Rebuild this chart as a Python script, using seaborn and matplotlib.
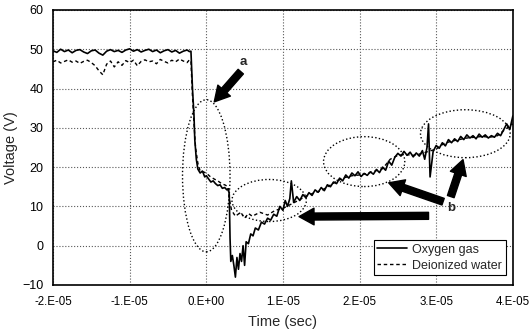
import numpy as np
import pandas as pd
import matplotlib
matplotlib.use("Agg")
import matplotlib.pyplot as plt
from matplotlib.patches import Ellipse
import seaborn as sns

# ---- data (time in microseconds, voltage in V) ----
oxy_t = [-20.0, -19.5, -19.0, -18.5, -18.0, -17.5, -17.0, -16.5, -16.0, -15.5,
         -15.0, -14.5, -14.0, -13.5, -13.0, -12.5, -12.0, -11.5, -11.0, -10.5,
         -10.0, -9.5, -9.0, -8.5, -8.0, -7.5, -7.0, -6.5, -6.0, -5.5,
         -5.0, -4.5, -4.0, -3.5, -3.0, -2.5, -2.2,
         -2.0, -1.8, -1.6, -1.5, -1.3, -1.1, -0.8, -0.5, -0.2, 0.0,
         0.3, 0.6, 0.9, 1.2, 1.5, 1.8, 2.1, 2.4, 2.7, 2.9,
         3.0, 3.1, 3.2, 3.4, 3.6, 3.8, 4.0, 4.2, 4.4, 4.6,
         4.8, 5.0, 5.2, 5.5, 5.8, 6.1, 6.4, 6.8, 7.2, 7.6,
         8.0, 8.4, 8.8, 9.2, 9.6, 10.0, 10.3, 10.6, 10.9, 11.1,
         11.4, 11.8, 12.2, 12.6, 13.0, 13.4, 13.8, 14.2, 14.6, 15.0,
         15.4, 15.8, 16.2, 16.6, 17.0, 17.4, 17.8, 18.2, 18.6, 19.0,
         19.4, 19.8, 20.2, 20.6, 21.0, 21.4, 21.8, 22.2, 22.6, 23.0,
         23.4, 23.8, 24.2, 24.6, 25.0, 25.4, 25.8, 26.2, 26.6, 27.0,
         27.4, 27.8, 28.2, 28.5, 28.8, 29.0, 29.2, 29.6, 30.0, 30.4,
         30.8, 31.2, 31.6, 32.0, 32.4, 32.8, 33.2, 33.6, 34.0, 34.4,
         34.8, 35.2, 35.6, 36.0, 36.4, 36.8, 37.2, 37.6, 38.0, 38.4,
         38.8, 39.2, 39.6, 40.0]
oxy_v = [49.6, 49.2, 50.0, 49.4, 49.8, 49.1, 49.7, 49.9, 49.3, 48.9,
         49.6, 49.8, 49.0, 48.5, 49.5, 49.9, 49.4, 49.7, 49.2, 49.8,
         50.1, 49.5, 49.9, 49.3, 49.7, 50.0, 49.4, 49.8, 49.1, 49.6,
         49.9, 49.3, 49.7, 49.0, 49.5, 49.8, 49.4,
         49.5, 40.0, 33.0, 27.0, 22.0, 19.5, 18.5, 19.0, 17.5, 17.8,
         17.0, 16.2, 16.5, 15.8, 15.3, 15.5, 14.6, 14.8, 14.2, 14.5,
         13.0, 2.0, -4.0, -2.5, -5.0, -8.0, -3.0, -6.0, -2.0, -4.0,
         0.0, -5.0, 1.0, 0.5, 3.0, 2.5, 4.5, 4.0, 6.0, 5.5,
         7.0, 6.5, 8.0, 7.5, 10.0, 9.0, 11.5, 10.0, 12.0, 16.5,
         11.0, 12.5, 11.5, 13.0, 12.2, 13.5, 12.8, 14.2, 13.6, 14.8,
         14.0, 15.5, 15.0, 16.2, 15.8, 17.2, 16.5, 18.0, 17.2, 18.5,
         17.8, 18.8, 17.6, 18.4, 17.9, 18.8, 18.2, 19.4, 18.6, 20.0,
         19.2, 21.5, 20.5, 22.5, 23.5, 22.8, 24.0, 23.0, 23.8, 22.6,
         23.6, 22.8, 24.2, 22.0, 25.0, 31.0, 17.5, 24.0, 25.5, 24.8,
         26.2, 25.4, 27.0, 26.2, 27.2, 26.5, 27.8, 27.0, 28.2, 27.4,
         28.0, 27.2, 28.4, 27.6, 28.2, 27.4, 28.0, 27.6, 28.6, 28.0,
         29.5, 31.0, 29.6, 33.0]

water_t = [-20.0, -19.5, -19.0, -18.5, -18.0, -17.5, -17.0, -16.5, -16.0, -15.5,
           -15.0, -14.5, -14.0, -13.5, -13.0, -12.5, -12.0, -11.5, -11.0, -10.5,
           -10.0, -9.5, -9.0, -8.5, -8.0, -7.5, -7.0, -6.5, -6.0, -5.5,
           -5.0, -4.5, -4.0, -3.5, -3.0, -2.5, -2.2,
           -2.0, -1.8, -1.6, -1.4, -1.1, -0.8, -0.4, 0.0, 0.5, 1.0,
           1.5, 2.0, 2.5, 2.8, 3.0, 3.3, 3.8, 4.5, 5.0, 5.5,
           6.0, 7.0, 8.0, 9.0, 10.0, 11.0, 12.0, 13.0, 14.0, 15.0,
           16.0, 17.0, 18.0, 19.0, 20.0, 21.0, 22.0, 23.0, 24.0, 25.0,
           26.0, 27.0, 28.0, 29.0, 30.0, 31.0, 32.0, 33.0, 34.0, 35.0,
           36.0, 37.0, 38.0, 39.0, 40.0]
water_v = [46.8, 47.2, 46.5, 46.9, 47.3, 46.7, 47.0, 46.4, 46.9, 47.2,
           46.6, 45.8, 44.5, 43.5, 46.2, 47.0, 45.5, 46.8, 45.9, 47.1,
           46.6, 47.2, 45.8, 46.9, 47.3, 46.8, 47.0, 46.3, 47.4, 46.9,
           46.5, 47.2, 46.8, 47.5, 47.0, 46.6, 47.3,
           47.0, 38.0, 31.0, 25.0, 21.0, 19.0, 18.8, 18.5, 17.6, 17.0,
           16.5, 15.8, 15.4, 15.0, 12.0, 9.0, 7.5, 8.5, 7.0, 8.2,
           7.5, 8.5, 7.8, 9.0, 9.5, 10.5, 11.5, 12.6, 13.4, 14.0,
           15.2, 16.4, 17.3, 17.8, 18.0, 18.4, 19.0, 19.6, 22.0, 23.0,
           23.2, 23.0, 23.4, 24.0, 24.6, 26.0, 26.6, 27.0, 27.4, 27.6,
           27.8, 27.6, 28.0, 29.6, 31.0]

series_names = ["Oxygen gas", "Deionized water"]
x_ticks_us = [-20, -10, 0, 10, 20, 30, 40]
x_tick_labels = ["-2.E-05", "-1.E-05", "0.E+00", "1.E-05", "2.E-05", "3.E-05", "4.E-05"]
y_ticks = [-10, 0, 10, 20, 30, 40, 50, 60]

# ---- build table ----
df = pd.concat([
    pd.DataFrame({"t": np.array(oxy_t) * 1e-6, "v": oxy_v, "s": series_names[0]}),
    pd.DataFrame({"t": np.array(water_t) * 1e-6, "v": water_v, "s": series_names[1]}),
])

sns.set_style("white")
plt.rcParams["font.family"] = ["Liberation Sans", "DejaVu Sans"]

fig = plt.figure(figsize=(5.31, 3.31), dpi=100)
ax = fig.add_axes([0.0998, 0.139, 0.866, 0.831])

sns.lineplot(data=df[df.s == series_names[0]], x="t", y="v", ax=ax, color="black",
             lw=1.2, label=series_names[0], estimator=None, sort=False)
sns.lineplot(data=df[df.s == series_names[1]], x="t", y="v", ax=ax, color="black",
             lw=1.0, linestyle=(0, (2.5, 2)), label=series_names[1], estimator=None, sort=False)

ax.set_xlim(-2e-5, 4e-5)
ax.set_ylim(-10, 60)
ax.set_xticks(np.array(x_ticks_us) * 1e-6)
ax.set_xticklabels(x_tick_labels)
ax.set_yticks(y_ticks)
ax.tick_params(length=0, labelsize=9, colors="black")
ax.tick_params(axis="x", pad=8, labelsize=8.3)
ax.tick_params(axis="y", pad=7)
ax.grid(True, linestyle=":", color="0.35", lw=0.8)
for sp in ax.spines.values():
    sp.set_color("black")
    sp.set_linewidth(1.2)
ax.set_xlabel("Time (sec)", fontsize=10.5, labelpad=5)
ax.set_ylabel("Voltage (V)", fontsize=10.5, labelpad=3)

# ellipses (data coordinates)
ell_style = dict(fill=False, ls=":", lw=1.0, ec="black")
ax.add_patch(Ellipse((0.0, 17.8), 6.2e-6, 38.7, **ell_style))
ax.add_patch(Ellipse((0.82e-5, 11.5), 9.7e-6, 10.7, **ell_style))
ax.add_patch(Ellipse((2.06e-5, 21.4), 1.06e-5, 12.7, **ell_style))
ax.add_patch(Ellipse((3.38e-5, 28.5), 1.17e-5, 12.2, **ell_style))

# arrows
arr = dict(arrowstyle="simple,head_width=1.0,head_length=0.9,tail_width=0.42",
           color="black", mutation_scale=12, shrinkA=0, shrinkB=0)
ax.annotate("", xy=(1.04e-6, 36.6), xytext=(4.5e-6, 44.3), arrowprops=arr)
ax.annotate("", xy=(1.21e-5, 7.4), xytext=(2.9e-5, 7.6), arrowprops=arr)
ax.annotate("", xy=(2.38e-5, 16.0), xytext=(3.09e-5, 11.2), arrowprops=arr)
ax.annotate("", xy=(3.35e-5, 21.9), xytext=(3.19e-5, 12.5), arrowprops=arr)
ax.text(4.8e-6, 46.8, "a", fontsize=9.5, fontweight="bold", ha="center", va="center")
ax.text(3.19e-5, 9.7, "b", fontsize=9.5, fontweight="bold", ha="center", va="center")

leg = ax.legend(loc="lower right", bbox_to_anchor=(0.985, 0.035), fontsize=9,
                frameon=True, fancybox=False, edgecolor="black", framealpha=1,
                handlelength=2.4, borderpad=0.3, labelspacing=0.3, handletextpad=0.4,
                borderaxespad=0)
leg.get_frame().set_linewidth(0.8)

fig.savefig("out.png", dpi=100)
